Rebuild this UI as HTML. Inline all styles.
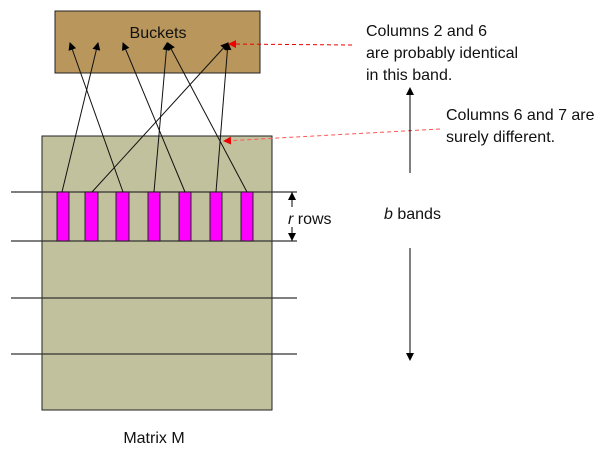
<!DOCTYPE html>
<html><head><meta charset="utf-8"><style>
body{margin:0;background:#fff}
svg{display:block;font-family:"Liberation Sans",sans-serif}
</style></head><body>
<svg width="606" height="450" viewBox="0 0 606 450">
<defs>
<marker id="ah" markerWidth="8" markerHeight="8" refX="7" refY="4" orient="auto" markerUnits="userSpaceOnUse"><path d="M0,0 L8,4 L0,8 z" fill="#000"/></marker>
<marker id="ahr" markerWidth="8" markerHeight="8" refX="7" refY="4" orient="auto" markerUnits="userSpaceOnUse"><path d="M0,0 L8,4 L0,8 z" fill="#e00"/></marker>
</defs>
<rect x="55" y="11" width="205" height="62" fill="#b8965c" stroke="#222" stroke-width="1"/>
<text x="158" y="38" font-size="16" text-anchor="middle" fill="#111">Buckets</text>
<rect x="42" y="136" width="230" height="274" fill="#c2c19e" stroke="#222" stroke-width="1"/>
<g stroke="#333" stroke-width="1.2">
<line x1="11" y1="192" x2="297" y2="192"/><line x1="11" y1="241" x2="297" y2="241"/>
<line x1="11" y1="298" x2="297" y2="298"/><line x1="11" y1="354" x2="297" y2="354"/>
</g>
<g fill="#ff00ff" stroke="#222" stroke-width="1">
<rect x="57" y="192" width="12" height="49"/><rect x="85" y="192" width="13" height="49"/>
<rect x="116" y="192" width="13" height="49"/><rect x="148" y="192" width="12" height="49"/>
<rect x="179" y="192" width="12" height="49"/><rect x="210" y="192" width="12" height="49"/>
<rect x="241" y="192" width="12" height="49"/>
</g>
<g stroke="#111" stroke-width="1" marker-end="url(#ah)">
<line x1="62" y1="192" x2="98" y2="43"/><line x1="92" y1="192" x2="228" y2="43"/>
<line x1="123" y1="192" x2="70" y2="43"/><line x1="154" y1="192" x2="167" y2="43"/>
<line x1="185" y1="192" x2="123" y2="43"/><line x1="216" y1="192" x2="228" y2="43"/>
<line x1="247" y1="192" x2="168" y2="43"/>
</g>
<line x1="352" y1="45" x2="229" y2="44" stroke="#e00" stroke-dasharray="4,3" marker-end="url(#ahr)"/>
<line x1="440" y1="129" x2="224" y2="141" stroke="#f55" stroke-dasharray="4,3" marker-end="url(#ahr)"/>
<g font-size="16" fill="#111">
<text x="366" y="36">Columns 2 and 6</text><text x="366" y="58">are probably identical</text><text x="366" y="80">in this band.</text>
</g>
<g font-size="16" fill="#111">
<text x="446" y="120">Columns 6 and 7 are</text><text x="446" y="142">surely different.</text>
</g>
<line x1="292" y1="241" x2="292" y2="193" stroke="#000" marker-end="url(#ah)"/>
<line x1="292" y1="192" x2="292" y2="240" stroke="#000" marker-end="url(#ah)"/>
<rect x="288" y="207" width="8" height="20" fill="#fff"/>
<text x="288" y="224" font-size="16" fill="#111"><tspan font-style="italic">r</tspan> rows</text>
<text x="384" y="219" font-size="16" fill="#111"><tspan font-style="italic">b</tspan>  bands</text>
<line x1="410" y1="173" x2="410" y2="88" stroke="#000" marker-end="url(#ah)"/>
<line x1="410" y1="248" x2="410" y2="360" stroke="#000" marker-end="url(#ah)"/>
<text x="154" y="443" font-size="16" text-anchor="middle" fill="#111">Matrix M</text>
</svg>
</body></html>
